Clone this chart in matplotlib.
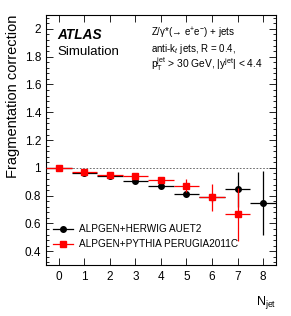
import matplotlib
matplotlib.use("Agg")
import matplotlib.pyplot as plt
from matplotlib.ticker import MultipleLocator
from matplotlib.lines import Line2D

plt.rcParams['font.family'] = ['Liberation Sans', 'DejaVu Sans']
plt.rcParams['mathtext.fontset'] = 'custom'
plt.rcParams['mathtext.rm'] = 'Liberation Sans'
plt.rcParams['mathtext.it'] = 'Liberation Sans:italic'

njet = [0, 1, 2, 3, 4, 5, 6, 7, 8]
herwig = [1.0, 0.96, 0.943, 0.907, 0.867, 0.81, 0.787, 0.846, 0.75]
herwig_err = [0.004, 0.008, 0.01, 0.012, 0.015, 0.02, 0.03, 0.125, 0.23]
pythia_n = [0, 1, 2, 3, 4, 5, 6, 7]
pythia = [1.0, 0.967, 0.945, 0.938, 0.912, 0.871, 0.788, 0.667]
pythia_err = [0.004, 0.007, 0.009, 0.012, 0.02, 0.047, 0.095, 0.19]
labels = ['ALPGEN+HERWIG AUET2', 'ALPGEN+PYTHIA PERUGIA2011C']

fig = plt.figure(figsize=(2.91, 3.16), dpi=100)
ax = fig.add_axes([0.158, 0.161, 0.79, 0.7915])

ax.axhline(1.0, color='#555555', lw=0.6, ls=(0, (2, 2)), zorder=1)

ax.errorbar(njet, herwig, yerr=herwig_err, xerr=0.5, fmt='o', color='black',
            ms=4, lw=0.9, capsize=0, zorder=3)
ax.errorbar(pythia_n, pythia, yerr=pythia_err, xerr=0.5, fmt='s', color='red',
            ms=5, lw=0.9, capsize=0, zorder=4)

ax.set_xlim(-0.5, 8.5)
ax.set_ylim(0.3, 2.1)
ax.xaxis.set_major_locator(MultipleLocator(1))
ax.yaxis.set_minor_locator(MultipleLocator(0.04))
ax.tick_params(which='both', direction='in', top=True, right=True, labelsize=8.5)
ax.tick_params(which='major', length=5, width=0.6)
ax.tick_params(which='minor', length=2.5, width=0.6)
ax.tick_params(axis='x', pad=4)
ax.set_yticks([0.4, 0.6, 0.8, 1.0, 1.2, 1.4, 1.6, 1.8, 2.0])
ax.set_yticklabels(['0.4', '0.6', '0.8', '1', '1.2', '1.4', '1.6', '1.8', '2'])
for s in ax.spines.values():
    s.set_linewidth(0.8)

ax.set_ylabel('Fragmentation correction', fontsize=10.5, loc='top', labelpad=3)
ax.set_xlabel(r'N$_{\mathrm{jet}}$', fontsize=9, loc='right', labelpad=8)

ax.text(0.05, 0.92, 'ATLAS', transform=ax.transAxes, fontsize=9.8,
        fontweight='bold', fontstyle='italic', va='center')
ax.text(0.05, 0.852, 'Simulation', transform=ax.transAxes, fontsize=9.5, va='center')
ax.text(0.455, 0.928, 'Z/γ*(→ e$^{+}$e$^{-}$) + jets',
        transform=ax.transAxes, fontsize=7, va='center')
ax.text(0.455, 0.864, r'anti-k$_{t}$ jets, R = 0.4,',
        transform=ax.transAxes, fontsize=7, va='center')
ax.text(0.455, 0.805, r'p$_{\mathrm{T}}^{\mathrm{jet}}$ > 30 GeV, |y$^{\mathrm{jet}}$| < 4.4',
        transform=ax.transAxes, fontsize=7.4, va='center')

handles = [Line2D([], [], color='black', marker='o', ms=4, lw=0.9),
           Line2D([], [], color='red', marker='s', ms=5, lw=0.9)]
ax.legend(handles, labels, loc='lower left', bbox_to_anchor=(0.0, 0.035), frameon=False,
          fontsize=7.2, handlelength=2.0, handletextpad=0.6, labelspacing=0.5,
          borderaxespad=0.3)

fig.savefig('out.png', dpi=100)
